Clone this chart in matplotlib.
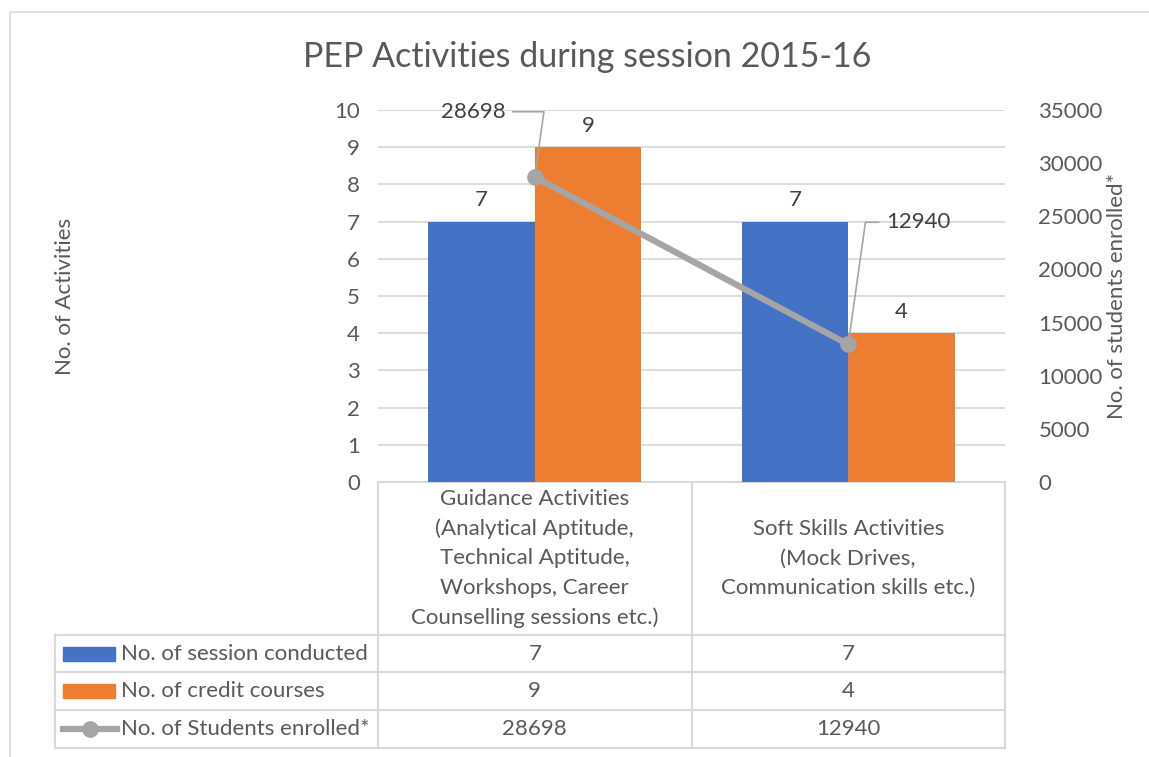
import matplotlib
matplotlib.use("Agg")
import matplotlib.pyplot as plt
from matplotlib.transforms import blended_transform_factory
from matplotlib.patches import Rectangle
from matplotlib.lines import Line2D

plt.rcParams['font.family'] = ['Lato', 'DejaVu Sans']

# ---- data ----
categories = ["Guidance Activities\n(Analytical Aptitude,\nTechnical Aptitude,\nWorkshops, Career\nCounselling sessions etc.)",
              "Soft Skills Activities\n(Mock Drives,\nCommunication skills etc.)"]
sessions = [7, 7]
credit_courses = [9, 4]
students = [28698, 12940]
series_names = ["No. of session conducted", "No. of credit courses", "No. of Students enrolled*"]
left_ticks = list(range(0, 11))
right_ticks = list(range(0, 35001, 5000))

BLUE = "#4472c4"
ORANGE = "#ed7d31"
GRAY = "#a5a5a5"
TXT = "#595959"
LBL = "#404040"
GRID = "#d9d9d9"
FS = 16

W, H = 1149, 757
fig = plt.figure(figsize=(W / 100, H / 100), dpi=100)

# overlay axes in pixel coordinates (y downward)
ov = fig.add_axes([0, 0, 1, 1])
ov.set_xlim(0, W)
ov.set_ylim(H, 0)
ov.axis('off')

# chart border
ov.add_patch(Rectangle((10, 12), 1160, 760, fill=False, ec=GRID, lw=1.2))

# plot area
pl, pr, pt, pb = 378, 1005, 110, 482
ax = fig.add_axes([pl / W, 1 - pb / H, (pr - pl) / W, (pb - pt) / H])
ax.set_zorder(2)
ax.patch.set_alpha(0)
x = list(range(len(categories)))
bw = 0.34
ax.bar([i - bw / 2 for i in x], sessions, width=bw, color=BLUE, zorder=2)
ax.bar([i + bw / 2 for i in x], credit_courses, width=bw, color=ORANGE, zorder=2)
ax.set_xlim(-0.5, len(categories) - 0.5)
ax.set_ylim(0, 10)
ax.set_yticks(left_ticks)
ax.set_xticks([])
ax.grid(axis='y', color=GRID, lw=1.3, zorder=0)
ax.set_axisbelow(True)
for s in ax.spines.values():
    s.set_visible(False)
ax.tick_params(axis='y', length=0, pad=13, labelsize=FS, labelcolor=TXT)
for i in x:
    ax.text(i - bw / 2, sessions[i] + 0.3, str(sessions[i]), ha='center', va='bottom',
            fontsize=FS, color=LBL)
    ax.text(i + bw / 2, credit_courses[i] + 0.3, str(credit_courses[i]), ha='center', va='bottom',
            fontsize=FS, color=LBL)

ax2 = ax.twinx()
ax2.plot(x, students, color=GRAY, lw=4.5, marker='o', ms=11, zorder=3)
ax2.set_ylim(0, 35000)
ax2.set_yticks(right_ticks)
for s in ax2.spines.values():
    s.set_visible(False)
ax2.tick_params(axis='y', length=0, pad=24, labelsize=FS, labelcolor=TXT)

# axis titles
ov.text(65, 296, "No. of Activities", rotation=90, ha='center', va='center', fontsize=FS, color=TXT)
ov.text(1117, 296, "No. of students enrolled*", rotation=90, ha='center', va='center', fontsize=FS, color=TXT)

# data labels with leader lines for the line series
ax2.annotate(str(students[0]), xy=(x[0], students[0]), xycoords=ax2.transData,
             xytext=(-21, 47), textcoords='offset points', ha='right', va='center',
             fontsize=FS, color=LBL,
             arrowprops=dict(arrowstyle='-', color=GRAY, lw=1.2,
                             connectionstyle='angle,angleA=0,angleB=82,rad=0',
                             shrinkA=3, shrinkB=0))
ax2.annotate(str(students[1]), xy=(x[1], students[1]), xycoords=ax2.transData,
             xytext=(27, 88), textcoords='offset points', ha='left', va='center',
             fontsize=FS, color=LBL,
             arrowprops=dict(arrowstyle='-', color=GRAY, lw=1.2,
                             connectionstyle='angle,angleA=180,angleB=82,rad=0',
                             shrinkA=3, shrinkB=0))

# title
ov.text(587, 57, "PEP Activities during session 2015-16", ha='center', va='center',
        fontsize=24.5, color=TXT)

# ---- data table ----
bt = blended_transform_factory(ax.transData, ov.transData)
tl = 55
row_y = [482, 635, 672, 710, 748]
lw_t = 1.5
for b in [-0.5 + k for k in range(len(categories) + 1)]:
    ov.add_line(Line2D([b, b], [row_y[0], row_y[-1]], transform=bt, color=GRID, lw=lw_t))
ov.add_line(Line2D([tl, tl], [row_y[1], row_y[-1]], color=GRID, lw=lw_t))
ov.add_line(Line2D([-0.5, len(categories) - 0.5], [row_y[0], row_y[0]], transform=bt, color=GRID, lw=lw_t))
for yy in row_y[1:]:
    ov.add_line(Line2D([tl, pr], [yy, yy], color=GRID, lw=lw_t))

# category labels
for i, c in enumerate(categories):
    ov.text(i, (row_y[0] + row_y[1]) / 2, c, transform=bt, ha='center', va='center',
            fontsize=FS, color=TXT, linespacing=1.58)

# series rows
rows = [sessions, credit_courses, students]
for r, (name, vals) in enumerate(zip(series_names, rows)):
    yc = (row_y[r + 1] + row_y[r + 2]) / 2
    if r < 2:
        ov.add_patch(Rectangle((63, yc - 7), 52, 14, color=[BLUE, ORANGE][r]))
    else:
        ov.add_line(Line2D([63, 117], [yc, yc], color=GRAY, lw=4.5))
        ov.plot([90], [yc], marker='o', ms=11, color=GRAY)
    ov.text(121, yc, name, ha='left', va='center', fontsize=FS, color=TXT)
    for i, v in enumerate(vals):
        ov.text(i, yc, str(v), transform=bt, ha='center', va='center', fontsize=FS, color=TXT)

fig.savefig("out.png", dpi=100)
